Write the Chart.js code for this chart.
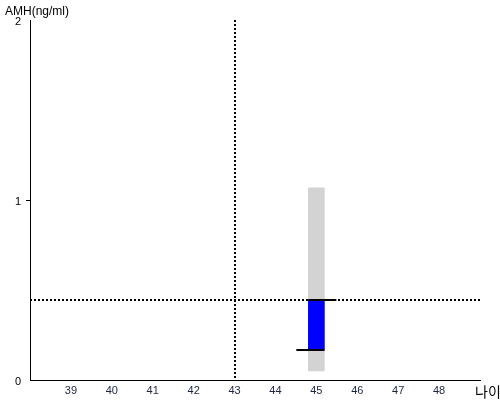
<!DOCTYPE html>
<html>
<head>
<meta charset="utf-8">
<script src="https://cdn.jsdelivr.net/npm/chart.js@4.4.0/dist/chart.umd.min.js"></script>
<style>
  body { margin: 0; background: #fff; }
  #wrap { width: 500px; height: 400px; }
</style>
</head>
<body>
<div id="wrap"><canvas id="amhChart" width="500" height="400"></canvas></div>
<script>
// data
var ages = [45];
var lowValues = [0.05];
var highValues = [1.067];
var openValues = [0.167];
var closeValues = [0.444];
var refAge = 43;
var refAmh = 0.444;
var xMin = 38, xMax = 49;
var yMin = 0, yMax = 2;

var rangeData = ages.map(function (a, i) { return { x: a, y: [lowValues[i], highValues[i]] }; });
var bodyData = ages.map(function (a, i) { return { x: a, y: [openValues[i], closeValues[i]] }; });

// dotted reference lines, open/close ticks and axis titles
var extrasPlugin = {
    id: 'extras',
    beforeDatasetsDraw: function (chart) {
        var c = chart.ctx, xs = chart.scales.x, ys = chart.scales.y, a = chart.chartArea;
        c.save();
        c.strokeStyle = '#000';
        c.lineWidth = 2;
        c.setLineDash([2, 2]);
        var px = Math.round(xs.getPixelForValue(refAge));
        c.beginPath();
        c.moveTo(px, a.top);
        c.lineTo(px, a.bottom);
        c.stroke();
        var py = Math.round(ys.getPixelForValue(refAmh));
        c.beginPath();
        c.moveTo(a.left, py);
        c.lineTo(a.right, py);
        c.stroke();
        c.restore();
    },
    afterDatasetsDraw: function (chart) {
        var c = chart.ctx, xs = chart.scales.x, ys = chart.scales.y;
        c.save();
        c.strokeStyle = '#000';
        c.lineWidth = 2;
        ages.forEach(function (a, i) {
            var px = xs.getPixelForValue(a);
            var yo = Math.round(ys.getPixelForValue(openValues[i]));
            var yc = Math.round(ys.getPixelForValue(closeValues[i]));
            c.beginPath();
            c.moveTo(px - 20, yo);
            c.lineTo(px + 8, yo);
            c.moveTo(px - 8, yc);
            c.lineTo(px + 20, yc);
            c.stroke();
        });
        c.restore();
    },
    afterDraw: function (chart) {
        var c = chart.ctx;
        c.save();
        c.fillStyle = '#000';
        c.textBaseline = 'alphabetic';
        c.font = '12px Arial, "Liberation Sans", sans-serif';
        c.fillText('AMH(ng/ml)', 5, 15);
        c.font = '14px "Noto Sans CJK KR", sans-serif';
        c.fillText('나이', 475, 397);
        c.restore();
    }
};

new Chart(document.getElementById('amhChart'), {
    type: 'bar',
    data: {
        datasets: [
            { label: 'body', data: bodyData, backgroundColor: '#0000ff', barThickness: 16, grouped: false },
            { label: 'range', data: rangeData, backgroundColor: '#d3d3d3', barThickness: 16, grouped: false }
        ]
    },
    options: {
        responsive: false,
        animation: false,
        layout: { padding: { top: 20, right: 20, left: 0, bottom: 0 } },
        plugins: { legend: { display: false }, tooltip: { enabled: false } },
        scales: {
            x: {
                type: 'linear',
                min: xMin,
                max: xMax,
                offset: false,
                afterFit: function (s) { s.height = 20; },
                grid: { display: false, drawTicks: false },
                border: { display: true, color: '#000', width: 1 },
                ticks: {
                    stepSize: 1,
                    padding: 4,
                    color: '#1c2440',
                    font: { family: 'Arial, "Liberation Sans", sans-serif', size: 11 },
                    callback: function (v) { return (v === xMin || v === xMax) ? '' : v; }
                }
            },
            y: {
                min: yMin,
                max: yMax,
                afterFit: function (s) { s.width = 30; },
                grid: {
                    drawOnChartArea: false,
                    drawTicks: true,
                    tickLength: 4,
                    color: function (ctx) { return ctx.tick && ctx.tick.value === 1 ? '#000' : 'rgba(0,0,0,0)'; }
                },
                border: { display: true, color: '#000', width: 1 },
                ticks: {
                    stepSize: 1,
                    padding: 5,
                    color: '#000',
                    labelOffset: 2,
                    font: { family: 'Arial, "Liberation Sans", sans-serif', size: 11 }
                }
            }
        }
    },
    plugins: [extrasPlugin]
});
</script>
</body>
</html>
